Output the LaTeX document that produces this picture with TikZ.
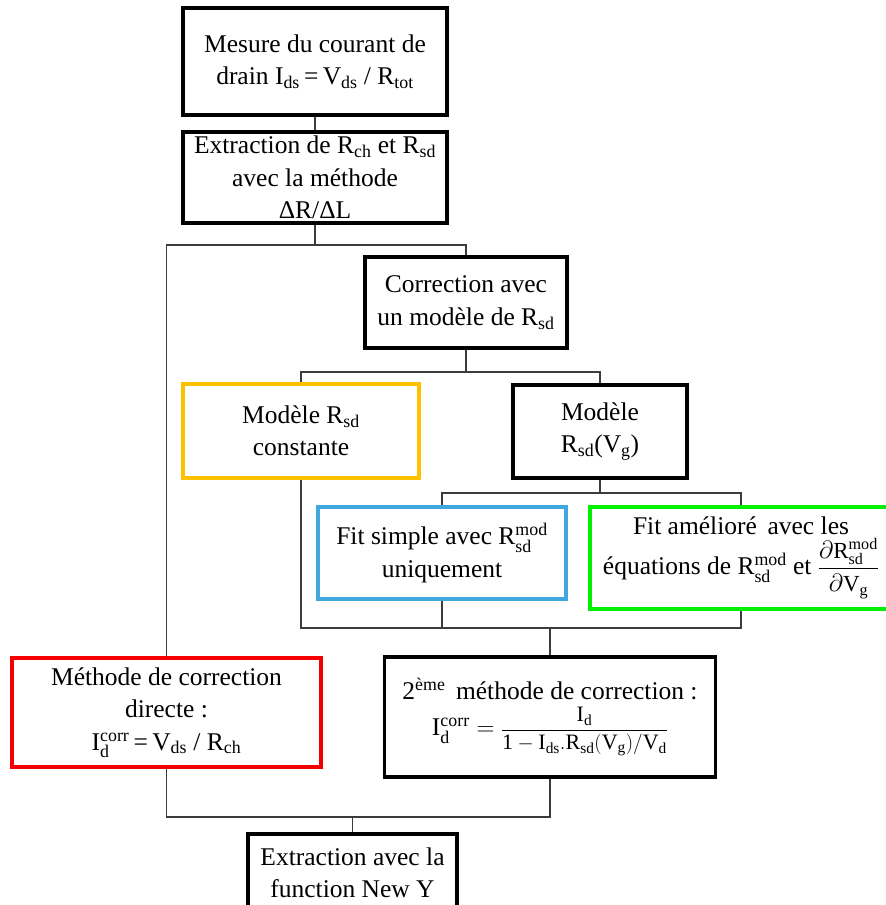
\documentclass[tikz,border=0pt]{standalone}
\usepackage{amsmath}
\usepackage{fontspec}
\setmainfont{Liberation Serif}
\usetikzlibrary{positioning}
\definecolor{boxyellow}{RGB}{255,192,0}
\definecolor{boxblue}{RGB}{64,168,222}
\definecolor{boxgreen}{RGB}{0,240,0}
\definecolor{boxred}{RGB}{245,0,0}
\definecolor{wire}{RGB}{60,60,60}
\newcommand{\sbs}[1]{\textsubscript{#1}}
\tikzset{
  flowbox/.style={draw=black, line width=3.5pt, fill=white, inner sep=0pt, align=center,
    font=\fontsize{25.5}{32.5}\selectfont, anchor=center},
  wireline/.style={draw=wire, line width=1.1pt}
}
\begin{document}
\begin{tikzpicture}[x=1pt,y=-1pt]
\useasboundingbox (0,0) rectangle (886,905);
\begin{scope}
\clip (0,0) rectangle (886,905);
% boxes
\node[flowbox, minimum width=264, minimum height=107] (b1) at (315,61.5)
  {Mesure du courant de\\drain I\sbs{ds}\,=\,V\sbs{ds} / R\sbs{tot}};
\node[flowbox, minimum width=264, minimum height=91] (b2) at (315,177.5)
  {Extraction de R\sbs{ch} et R\sbs{sd}\\avec la méthode\\ΔR/ΔL};
\node[flowbox, minimum width=202, minimum height=91] (b3) at (466,302.5)
  {Correction avec\\un modèle de R\sbs{sd}};
\node[flowbox, draw=boxyellow, minimum width=236, minimum height=94] (b4) at (301,431)
  {Modèle R\sbs{sd}\\constante};
\node[flowbox, minimum width=174, minimum height=93] (b5) at (600,431.5)
  {Modèle\\R\sbs{sd}(V\sbs{g})};
\node[flowbox, draw=boxblue, minimum width=248, minimum height=92] (b6) at (442,553)
  {Fit simple avec $\mathrm{R^{mod}_{sd}}$\\uniquement};
\node[flowbox, draw=boxgreen, minimum width=302, minimum height=102] (b7) at (741,558)
  {Fit amélioré\, avec les\\[2pt]équations de $\mathrm{R^{mod}_{sd}}$ et {\fontsize{23}{24}\selectfont$\dfrac{\partial\mathrm{R^{mod}_{sd}}}{\partial\mathrm{V_g}}$}};
\node[flowbox, draw=boxred, minimum width=309, minimum height=109] (b8) at (166.5,712.5)
  {Méthode de correction\\directe :\\$\mathrm{I^{corr}_d}$\,=\,V\sbs{ds} / R\sbs{ch}};
\node[flowbox, minimum width=331, minimum height=120] (b9) at (550,717)
  {2\textsuperscript{ème}\, méthode de correction :\\[4pt]$\mathrm{I^{corr}_d} = $ {\fontsize{22}{23}\selectfont$\dfrac{\mathrm{I_d}}{\mathrm{1-I_{ds}.R_{sd}(V_g)/V_d}}$}};
\node[flowbox, minimum width=209, minimum height=78, align=center] (b10) at (352.5,873)
  {Extraction avec la\\function New Y};
% junction levels
\coordinate (h1) at (0,245);
\coordinate (h2) at (0,372);
\coordinate (h3) at (0,493);
\coordinate (h4) at (0,628);
\coordinate (h5) at (0,817);
% connectors
\draw[wireline] (b1.south) -- (b2.north);
\draw[wireline] (b2.south) -- (b2.south |- h1);
\draw[wireline] (b8.north) |- (b3.north |- h1) -- (b3.north);
\draw[wireline] (b3.south) -- (b3.south |- h2);
\draw[wireline] (b4.north) |- (b5.north |- h2) -- (b5.north);
\draw[wireline] (b5.south) -- (b5.south |- h3);
\draw[wireline] (b6.north) |- (b7.north |- h3) -- (b7.north);
\draw[wireline] (b4.south) |- (b7.south |- h4) -- (b7.south);
\draw[wireline] (b6.south) -- (b6.south |- h4);
\draw[wireline] (b9.north) -- (b9.north |- h4);
\draw[wireline] (b8.south) |- (b9.south |- h5) -- (b9.south);
\draw[wireline] (b10.north) -- (b10.north |- h5);
\end{scope}
\end{tikzpicture}
\end{document}
